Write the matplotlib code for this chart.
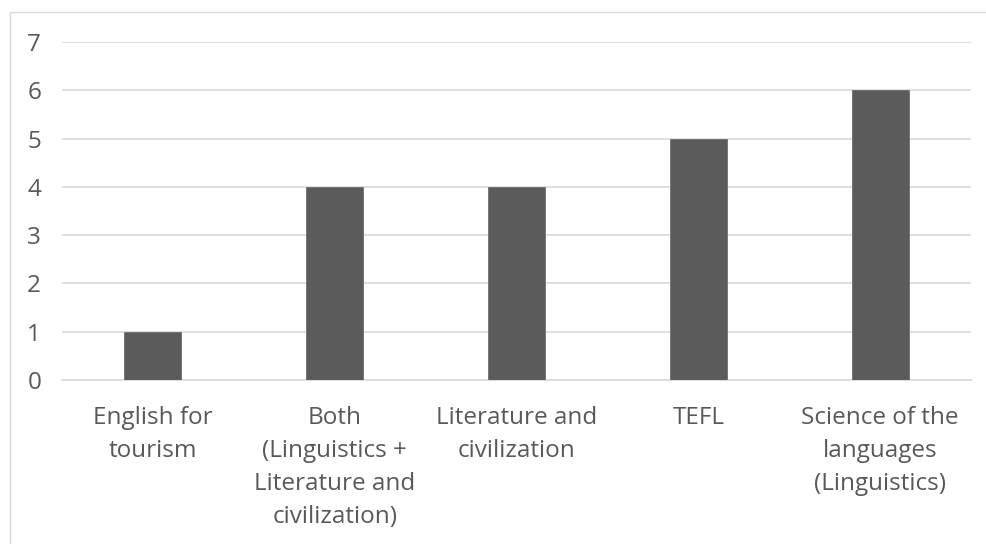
import matplotlib
matplotlib.use("Agg")
import matplotlib.pyplot as plt
from matplotlib.patches import Rectangle

categories = [
    "English for\ntourism",
    "Both\n(Linguistics +\nLiterature and\ncivilization)",
    "Literature and\ncivilization",
    "TEFL",
    "Science of the\nlanguages\n(Linguistics)",
]
values = [1, 4, 4, 5, 6]
y_ticks = [0, 1, 2, 3, 4, 5, 6, 7]

TEXT = "#595959"
GRID = "#d9d9d9"
BAR = "#5b5b5b"

plt.rcParams["font.family"] = ["Open Sans", "DejaVu Sans"]

W, H = 987, 544
fig = plt.figure(figsize=(W / 100, H / 100), dpi=100)
fig.patch.set_facecolor("white")

# chart-area border
fig.patches.append(Rectangle((10 / W, 0 - 0.05), 1.05, 1 - 12 / H + 0.05,
                             transform=fig.transFigure, fill=False,
                             edgecolor=GRID, linewidth=1.0, clip_on=False))

ax = fig.add_axes([62 / W, 1 - 380 / H, (971 - 62) / W, (380 - 42) / H])
x = range(len(categories))
ax.bar(x, values, width=0.313, color=BAR, edgecolor="#6e6e6e", linewidth=0.6, zorder=3)

ax.set_xlim(-0.5, len(categories) - 0.5)
ax.set_ylim(0, 7)
ax.set_yticks(y_ticks)
ax.set_yticklabels([str(t) for t in y_ticks])
ax.yaxis.grid(True, color=GRID, linewidth=1.2, zorder=0)
ax.set_axisbelow(True)

for s in ["top", "right", "left"]:
    ax.spines[s].set_visible(False)
ax.spines["bottom"].set_color(GRID)
ax.spines["bottom"].set_linewidth(1.2)

ax.set_xticks(list(x))
ax.set_xticklabels(categories, linespacing=1.49)
ax.tick_params(axis="x", length=0, pad=19, labelsize=17.5, labelcolor=TEXT)
ax.tick_params(axis="y", length=0, pad=15, labelsize=17.5, labelcolor=TEXT)

fig.savefig("out.png", dpi=100, facecolor="white")
